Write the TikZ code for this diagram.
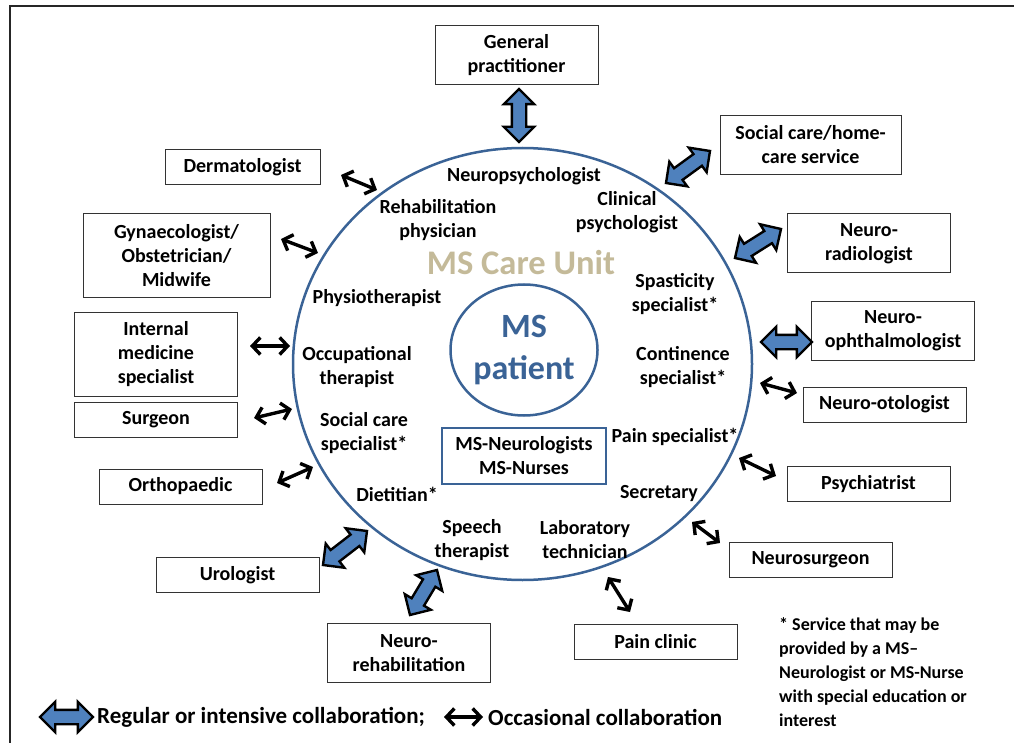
\documentclass[tikz,border=0pt]{standalone}
\usepackage{fontspec}
\setmainfont{Carlito}
\usetikzlibrary{arrows.meta,shapes.geometric,shapes.arrows,calc}
\definecolor{unitblue}{HTML}{3A6396}
\definecolor{arrowblue}{HTML}{4F81BD}
\definecolor{unittan}{HTML}{C4BA99}

\tikzset{
  box/.style={draw=black!80, line width=1pt, fill=white, align=center, inner sep=0pt,
    minimum width=163pt, minimum height=35pt, font=\fontsize{20}{24}\selectfont\bfseries},
  boxtwo/.style={box, minimum height=59pt},
  boxthree/.style={box, minimum height=84pt},
  lbl/.style={align=center, inner sep=0pt, font=\fontsize{20}{24}\selectfont\bfseries},
  occasional/.style={{Straight Barb[length=8pt,width=17pt]}-{Straight Barb[length=8pt,width=17pt]}, line width=3.4pt},
  regular/.style={double arrow, draw=black, line width=2.4pt, fill=arrowblue, inner xsep=0pt, inner ysep=6pt,
    double arrow head extend=8pt}
}
\newcommand\regarrow[2]{%
  \path let \p1=($(#2)-(#1)$), \n1={veclen(\x1,\y1)}, \n2={atan2(\y1,\x1)} in
    node[regular, minimum height=\n1, rotate=\n2] at ($(#1)!0.5!(#2)$) {};}

\begin{document}
\begin{tikzpicture}[x=1pt, y=-1pt]
    \useasboundingbox (0,0) rectangle (1014,743);
    \draw [line width=1.8pt, black!85] (10,743) -- (10,6) -- (1014,6);

    % care unit and patient
    \node [draw=unitblue, line width=2.5pt, ellipse, minimum width=459pt, minimum height=432pt] (unit) at (522.5,364) {};
    \node [text=unittan, font=\fontsize{34.5}{36}\selectfont\bfseries] (title) at (521,263) {MS Care Unit};
    \node [draw=unitblue, line width=2.5pt, ellipse, minimum width=147pt, minimum height=131pt, align=center,
      text=unitblue, font=\fontsize{34}{42}\selectfont\bfseries, inner sep=0pt] (patient) at (524,350) {MS\\patient};
    \node [draw=unitblue, line width=2.5pt, minimum width=164pt, minimum height=56pt, lbl] (msteam) at (524,456) {MS-Neurologists\\MS-Nurses};

    \node [lbl] (npsy) at (524,176) {Neuropsychologist};
    \node [lbl] (rehab) at (438,220) {Rehabilitation\\physician};
    \node [lbl] (clin) at (627,212) {Clinical\\psychologist};
    \node [lbl] (spast) at (675,294) {Spasticity\\specialist*};
    \node [lbl] (physio) at (377,298) {Physiotherapist};
    \node [lbl] (occup) at (357,367) {Occupational\\therapist};
    \node [lbl] (contin) at (683,367) {Continence\\specialist*};
    \node [lbl] (social) at (364,433) {Social care\\specialist*};
    \node [lbl] (pain) at (675,437) {Pain specialist*};
    \node [lbl] (diet) at (397,494) {Dietitian*};
    \node [lbl] (secr) at (659,494) {Secretary};
    \node [lbl] (speech) at (472,540) {Speech\\therapist};
    \node [lbl] (lab) at (585,540) {Laboratory\\technician};

    % partners outside
    \node [boxtwo] (gp) at (516.5,55) {General\\practitioner};
    \node [boxtwo, minimum width=181pt] (home) at (810.5,145) {Social care/home-\\care service};
    \node [box, minimum width=155pt] (derm) at (242.5,167.5) {Dermatologist};
    \node [boxthree, minimum width=187pt] (gyn) at (176.5,255.5) {Gynaecologist/\\Obstetrician/\\Midwife};
    \node [boxtwo] (rad) at (869,243.5) {Neuro-\\radiologist};
    \node [boxtwo] (oph) at (893,330.5) {Neuro-\\ophthalmologist};
    \node [boxthree] (intmed) at (156,354) {Internal\\medicine\\specialist};
    \node [box] (surg) at (156,419.5) {Surgeon};
    \node [box] (oto) at (884.5,404.5) {Neuro-otologist};
    \node [box] (ortho) at (180.5,486.5) {Orthopaedic};
    \node [box] (psych) at (868.5,484) {Psychiatrist};
    \node [box] (nsurg) at (810.5,560) {Neurosurgeon};
    \node [box] (uro) at (237.5,575) {Urologist};
    \node [box] (painc) at (655.5,641.5) {Pain clinic};
    \node [boxtwo] (nrehab) at (409,653) {Neuro-\\rehabilitation};

    % ends of the collaboration arrows
    \coordinate (gpA) at (519,89);     \coordinate (gpB) at (519,142);
    \coordinate (homeA) at (666,183);  \coordinate (homeB) at (710,151);
    \coordinate (radA) at (735,258);   \coordinate (radB) at (781,229);
    \coordinate (ophA) at (761,342);   \coordinate (ophB) at (812,342);
    \coordinate (uroA) at (323,565);   \coordinate (uroB) at (367,531);
    \coordinate (nrehabA) at (410,615); \coordinate (nrehabB) at (437,570);

    \regarrow{gpA}{gpB}
    \regarrow{homeA}{homeB}
    \regarrow{radA}{radB}
    \regarrow{ophA}{ophB}
    \regarrow{uroA}{uroB}
    \regarrow{nrehabA}{nrehabB}

    \coordinate (dermA) at (341,175);   \coordinate (dermB) at (377,190);
    \coordinate (gynA) at (281,239);    \coordinate (gynB) at (318,253);
    \coordinate (intmedA) at (250,346); \coordinate (intmedB) at (290,346);
    \coordinate (surgA) at (254,418);   \coordinate (surgB) at (292,409);
    \coordinate (orthoA) at (277,483);  \coordinate (orthoB) at (313,467);
    \coordinate (otoA) at (760,383);    \coordinate (otoB) at (797,393);
    \coordinate (psychA) at (739,458);  \coordinate (psychB) at (776,476);
    \coordinate (nsurgA) at (692,522);  \coordinate (nsurgB) at (720,543);
    \coordinate (paincA) at (608,577);  \coordinate (paincB) at (630,612);

    \draw [occasional] (dermA) -- (dermB);
    \draw [occasional] (gynA) -- (gynB);
    \draw [occasional] (intmedA) -- (intmedB);
    \draw [occasional] (surgA) -- (surgB);
    \draw [occasional] (orthoA) -- (orthoB);
    \draw [occasional] (otoA) -- (otoB);
    \draw [occasional] (psychA) -- (psychB);
    \draw [occasional] (nsurgA) -- (nsurgB);
    \draw [occasional] (paincA) -- (paincB);

    % footnote and legend
    \node [anchor=north west, align=left, inner sep=0pt, font=\fontsize{18}{24}\selectfont\bfseries] (note) at (779,617)
      {* Service that may be\\provided by a MS--\\Neurologist or MS-Nurse\\with special education or\\interest};

    \coordinate (keyA) at (40,717); \coordinate (keyB) at (93,717);
    \regarrow{keyA}{keyB}
    \node [anchor=west, inner sep=0pt, font=\fontsize{23}{26}\selectfont\bfseries] (keyreg) at (97,717) {Regular or intensive collaboration;};
    \coordinate (keyC) at (444,717); \coordinate (keyD) at (483,717);
    \draw [occasional] (keyC) -- (keyD);
    \node [anchor=west, inner sep=0pt, font=\fontsize{23}{26}\selectfont\bfseries] (keyocc) at (488,717) {Occasional collaboration};
\end{tikzpicture}
\end{document}
